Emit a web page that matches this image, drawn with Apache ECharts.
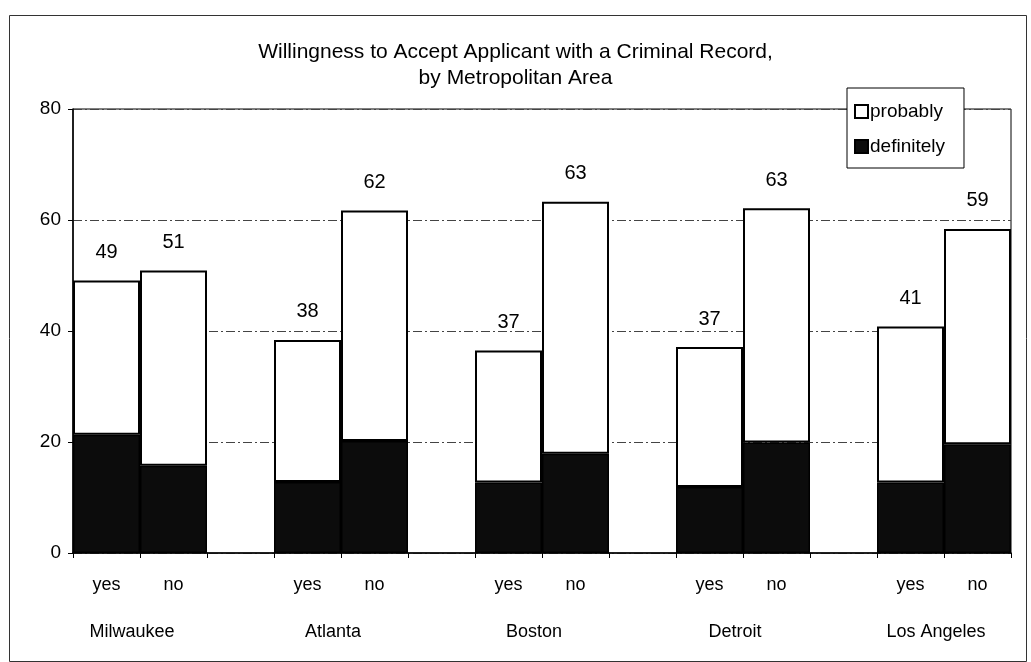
<!DOCTYPE html>
<html>
<head>
<meta charset="utf-8">
<script src="https://cdn.jsdelivr.net/npm/echarts@6/dist/echarts.min.js"></script>
<style>
html,body{margin:0;padding:0;background:#fff;}
#chart{width:1031px;height:662px;}
</style>
</head>
<body>
<div id="chart"></div>
<script>
// ---- data ----
const cities = ['Milwaukee', 'Atlanta', 'Boston', 'Detroit', 'Los Angeles'];
const answers = ['yes', 'no'];
// per bar, in order city1-yes, city1-no, city2-yes, ...
const definitely = [21.3, 15.7, 12.8, 20.2, 12.7, 17.9, 11.9, 19.9, 12.7, 19.6];
const probably   = [27.8, 35.2, 25.6, 41.5, 23.8, 45.4, 25.2, 42.2, 28.1, 38.8];
const totalLabels = [49, 51, 38, 62, 37, 63, 37, 63, 41, 59];
const yTicks = [0, 20, 40, 60, 80];

// ---- build category slots (gap slot between cities) ----
const slotNames = [];
const defData = [], probData = [], labelData = [];
const cityAnchor = []; // boundary index at the centre of each city group
cities.forEach((c, ci) => {
  if (ci > 0) { slotNames.push(''); defData.push('-'); probData.push('-'); labelData.push(''); }
  cityAnchor.push(slotNames.length + 1);
  answers.forEach((a, ai) => {
    const k = ci * answers.length + ai;
    slotNames.push(a);
    defData.push(definitely[k]);
    probData.push(probably[k]);
    labelData.push(totalLabels[k]);
  });
});
const boundaryNames = [];
for (let i = 0; i <= slotNames.length; i++) {
  const idx = cityAnchor.indexOf(i);
  boundaryNames.push(idx >= 0 ? cities[idx] : '');
}

const FONT = '"Liberation Sans", Arial, sans-serif';
const chart = echarts.init(document.getElementById('chart'), null, {renderer: 'canvas'});
chart.setOption({
  animation: false,
  backgroundColor: '#fff',
  textStyle: {fontFamily: FONT, color: '#000'},
  title: {
    text: 'Willingness to Accept Applicant with a Criminal Record,\nby Metropolitan Area',
    left: 'center',
    top: 34,
    textStyle: {fontFamily: FONT, fontSize: 21, fontWeight: 'normal', color: '#000', lineHeight: 26}
  },
  legend: {
    data: ['probably', 'definitely'],
    orient: 'vertical',
    left: 847,
    top: 88,
    backgroundColor: '#fff',
    borderColor: '#000',
    borderWidth: 1,
    padding: [14, 19, 12, 7],
    itemGap: 16,
    itemWidth: 13,
    itemHeight: 13,
    icon: 'rect',
    textStyle: {fontFamily: FONT, fontSize: 19, color: '#000', padding: [0, 0, 0, -3]},
    z: 10
  },
  grid: {
    left: 73, right: 20, top: 109, bottom: 109,
    show: true, borderColor: '#000', borderWidth: 1, backgroundColor: 'transparent'
  },
  xAxis: [
    {
      type: 'category',
      data: slotNames,
      position: 'bottom',
      axisLine: {show: true, lineStyle: {color: '#000', width: 1.5}},
      axisTick: {show: true, interval: 0, length: 5, lineStyle: {color: '#000'}},
      axisLabel: {interval: 0, margin: 23, fontSize: 18, color: '#000', fontFamily: FONT},
      splitLine: {show: false}
    },
    {
      type: 'category',
      data: boundaryNames,
      boundaryGap: false,
      position: 'bottom',
      axisLine: {show: false},
      axisTick: {show: false},
      axisLabel: {interval: 0, margin: 70, fontSize: 18, color: '#000', fontFamily: FONT, padding: [0, 16, 0, 0]},
      splitLine: {show: false}
    }
  ],
  yAxis: {
    type: 'value',
    min: yTicks[0],
    max: yTicks[yTicks.length - 1],
    interval: yTicks[1] - yTicks[0],
    axisLine: {show: true, lineStyle: {color: '#000', width: 1.5}},
    axisTick: {show: true, length: 5, lineStyle: {color: '#000'}},
    axisLabel: {fontSize: 19, color: '#000', margin: 12, fontFamily: FONT},
    splitLine: {show: true, lineStyle: {color: '#444', width: 1, type: [9, 3, 2, 3]}}
  },
  series: [
    {
      name: 'definitely',
      type: 'bar',
      stack: 'total',
      data: defData,
      barCategoryGap: '0%',
      itemStyle: {color: '#0c0c0c', borderColor: '#000', borderWidth: 1.5}
    },
    {
      name: 'probably',
      type: 'bar',
      stack: 'total',
      data: probData,
      barCategoryGap: '0%',
      itemStyle: {color: '#fff', borderColor: '#000', borderWidth: 2},
      label: {
        show: true,
        position: 'top',
        distance: 18,
        fontSize: 20,
        color: '#000',
        fontFamily: FONT,
        formatter: p => String(labelData[p.dataIndex])
      }
    }
  ],
  graphic: [
    {
      type: 'rect',
      left: 7, top: 13,
      shape: {width: 1017, height: 646},
      style: {fill: 'none', stroke: '#333', lineWidth: 1},
      silent: true
    }
  ]
});
</script>
</body>
</html>
